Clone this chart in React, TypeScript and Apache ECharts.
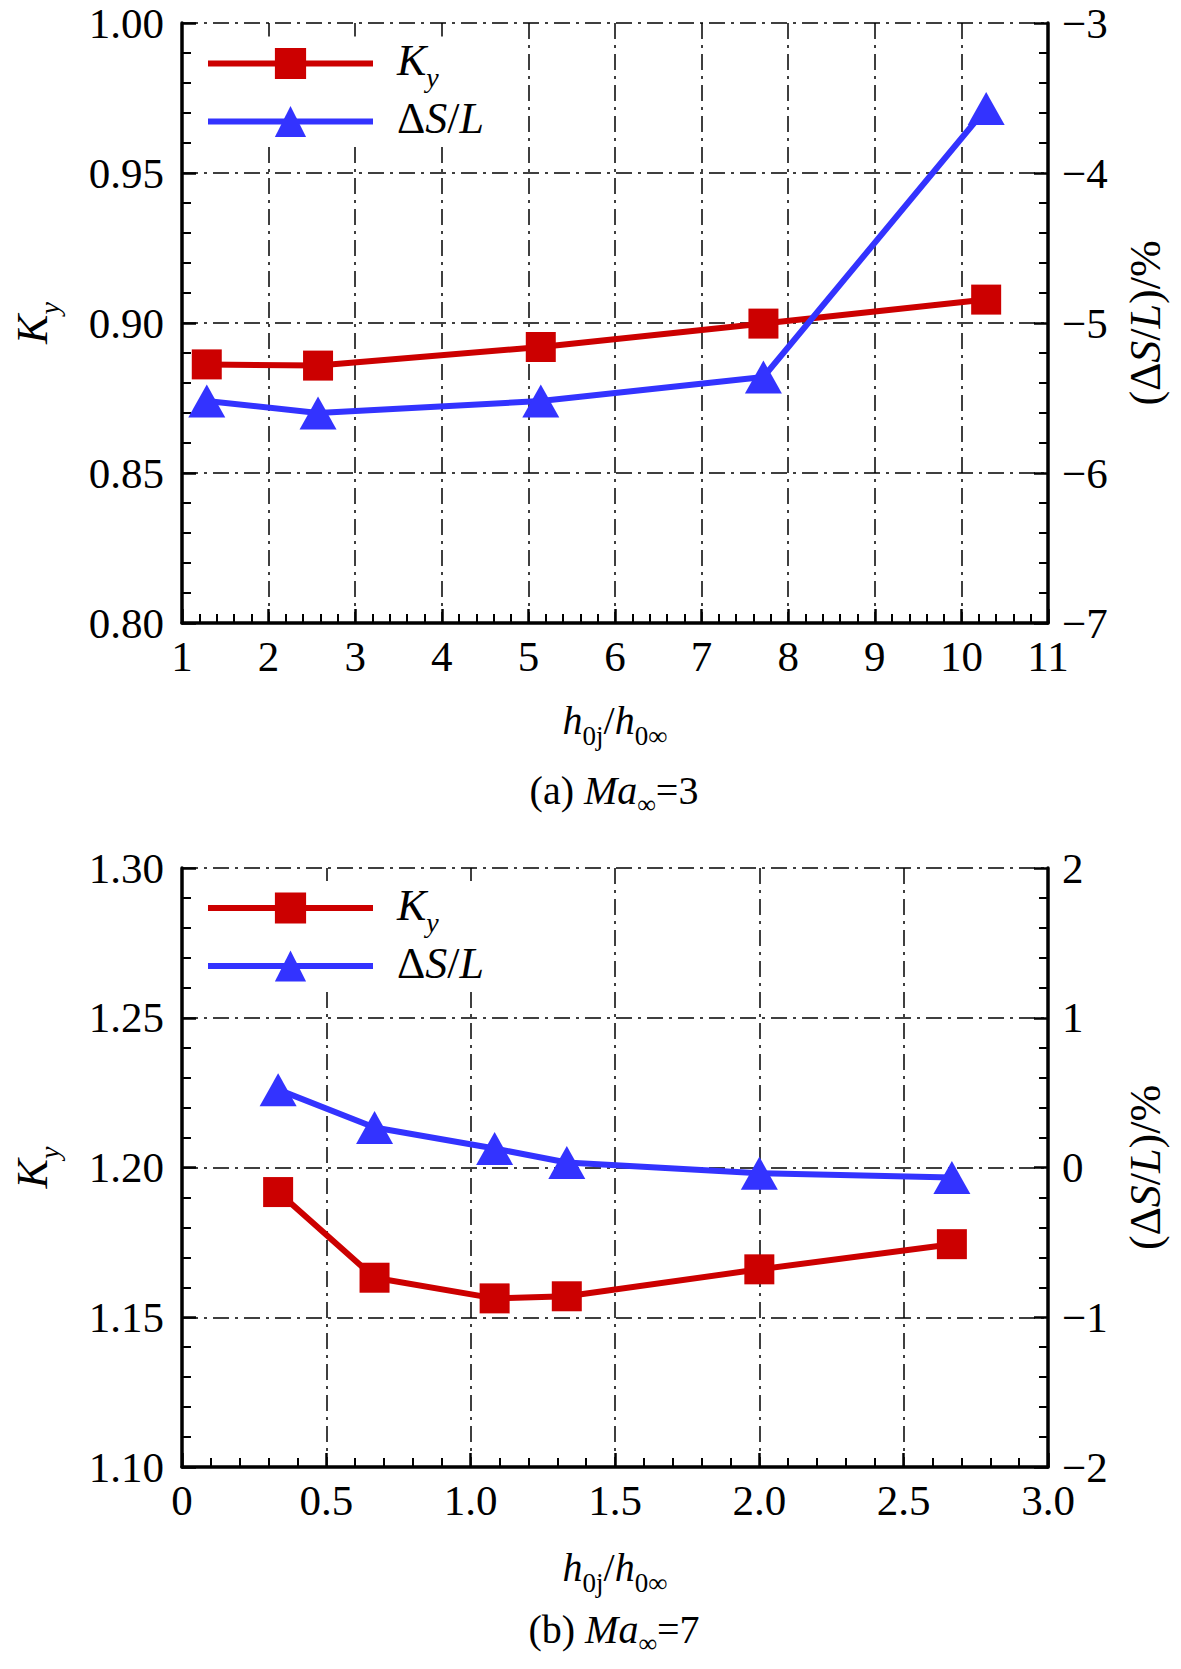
import React, { useEffect, useRef } from 'react';
import * as echarts from 'echarts';

const SERIF = "'Liberation Serif', 'Times New Roman', Times, serif";
const RED = '#CC0000';
const BLUE = '#3333FF';

// ---------- Panel (a) Ma∞ = 3 ----------
const xA = [1.286, 2.571, 5.143, 7.714, 10.286];
const kyA = [0.8862, 0.8858, 0.892, 0.8998, 0.9078];
const dsA = [-5.52, -5.6, -5.52, -5.36, -3.57];
const xTickLabelsA = ['1', '2', '3', '4', '5', '6', '7', '8', '9', '10', '11'];
const yLeftLabelsA = ['0.80', '0.85', '0.90', '0.95', '1.00'];
const yRightLabelsA = ['\u22127', '\u22126', '\u22125', '\u22124', '\u22123'];

// ---------- Panel (b) Ma∞ = 7 ----------
const xB = [0.333, 0.667, 1.083, 1.333, 2.0, 2.667];
const kyB = [1.1918, 1.1632, 1.1563, 1.157, 1.166, 1.1744];
const dsB = [0.52, 0.267, 0.127, 0.033, -0.038, -0.067];
const xTickLabelsB = ['0', '0.5', '1.0', '1.5', '2.0', '2.5', '3.0'];
const yLeftLabelsB = ['1.10', '1.15', '1.20', '1.25', '1.30'];
const yRightLabelsB = ['\u22122', '\u22121', '0', '1', '2'];

const SERIES_NAMES = ['Ky', 'ΔS/L'];

function rich(main: number, sub: number, d: number) {
  const lh = main + 6;
  const pad = Math.round(lh / 2 + 0.34 * main + d - sub / 2 - 0.34 * sub);
  const base = { fontFamily: SERIF, fontSize: main, lineHeight: lh, verticalAlign: 'top', color: '#000' };
  const sbase = { fontFamily: SERIF, fontSize: sub, lineHeight: sub, padding: [pad, 0, 0, 0], verticalAlign: 'top', color: '#000' };
  return {
    n: { ...base },
    i: { ...base, fontStyle: 'italic' },
    s: { ...sbase },
    si: { ...sbase, fontStyle: 'italic' },
  };
}

const lookup = (labels: string[], min: number, step: number) => (v: number) => {
  const idx = Math.round((v - min) / step);
  return labels[idx] ?? '';
};

const DASHDOT = [16, 6, 3, 6];
const TICK_FONT = 43;

function xAxisCfg(gridIndex: number, min: number, max: number, interval: number, labels: string[], nameGap: number) {
  return {
    type: 'value',
    gridIndex,
    min,
    max,
    interval,
    position: 'bottom',
    axisLine: { show: true, onZero: false, lineStyle: { color: '#000', width: 3.5 } },
    axisTick: { show: true, inside: true, length: 14, lineStyle: { color: '#000', width: 2.5 } },
    minorTick: { show: true, splitNumber: 5, length: 9, lineStyle: { color: '#000', width: 2 } },
    axisLabel: {
      margin: 12,
      fontSize: TICK_FONT,
      fontFamily: SERIF,
      color: '#000',
      formatter: lookup(labels, min, interval),
    },
    splitLine: { show: true, lineStyle: { color: '#000', width: 1.5, type: DASHDOT } },
    name: '{i|h}{s|0j}{n|/}{i|h}{s|0\u221E}',
    nameLocation: 'middle',
    nameGap,
    nameTextStyle: { rich: rich(40, 27, 8) },
  };
}

function yLeftCfg(gridIndex: number, min: number, max: number, interval: number, labels: string[]) {
  return {
    type: 'value',
    gridIndex,
    position: 'left',
    min,
    max,
    interval,
    axisLine: { show: true, onZero: false, lineStyle: { color: '#000', width: 3.5 } },
    axisTick: { show: true, inside: true, length: 14, lineStyle: { color: '#000', width: 2.5 } },
    minorTick: { show: true, splitNumber: 5, length: 9, lineStyle: { color: '#000', width: 2 } },
    axisLabel: {
      margin: 18,
      fontSize: TICK_FONT,
      fontFamily: SERIF,
      color: '#000',
      formatter: lookup(labels, min, interval),
    },
    splitLine: { show: true, lineStyle: { color: '#000', width: 1.5, type: DASHDOT } },
    name: '{i|K}{si|y}',
    nameLocation: 'middle',
    nameRotate: 90,
    nameGap: 122,
    nameTextStyle: { rich: rich(44, 28, 9) },
  };
}

function yRightCfg(gridIndex: number, min: number, max: number, interval: number, labels: string[]) {
  return {
    type: 'value',
    gridIndex,
    position: 'right',
    min,
    max,
    interval,
    axisLine: { show: true, onZero: false, lineStyle: { color: '#000', width: 3.5 } },
    axisTick: { show: true, inside: true, length: 14, lineStyle: { color: '#000', width: 2.5 } },
    minorTick: { show: true, splitNumber: 5, length: 9, lineStyle: { color: '#000', width: 2 } },
    axisLabel: {
      margin: 14,
      fontSize: TICK_FONT,
      fontFamily: SERIF,
      color: '#000',
      formatter: lookup(labels, min, interval),
    },
    splitLine: { show: false },
    name: '{n|(\u0394}{i|S}{n|/}{i|L}{n|)/%}',
    nameLocation: 'middle',
    nameRotate: 90,
    nameGap: 75,
    nameTextStyle: { rich: rich(44, 28, 9) },
  };
}

function seriesPair(xIdx: number, yLeft: number, yRight: number, xs: number[], ky: number[], ds: number[]) {
  return [
    {
      type: 'line',
      name: SERIES_NAMES[0],
      xAxisIndex: xIdx,
      yAxisIndex: yLeft,
      data: xs.map((x, i) => [x, ky[i]]),
      symbol: 'rect',
      symbolSize: 30,
      itemStyle: { color: RED },
      lineStyle: { color: RED, width: 6 },
      z: 3,
    },
    {
      type: 'line',
      name: SERIES_NAMES[1],
      xAxisIndex: xIdx,
      yAxisIndex: yRight,
      data: xs.map((x, i) => [x, ds[i]]),
      symbol: 'triangle',
      symbolSize: [37, 33],
      itemStyle: { color: BLUE },
      lineStyle: { color: BLUE, width: 6 },
      z: 4,
    },
  ];
}

const legendRich = rich(44, 28, 9);
function legendCfg(top: number) {
  return {
    show: true,
    orient: 'vertical',
    left: 195,
    top,
    itemWidth: 165,
    itemHeight: 39,
    itemGap: 5,
    padding: [2, 14, 4, 10],
    backgroundColor: '#fff',
    selectedMode: false,
    data: SERIES_NAMES,
    lineStyle: { width: 6 },
    formatter: (name: string) => (name === 'Ky' ? '{i|K}{si|y}' : '{n|\u0394}{i|S}{n|/}{i|L}'),
    textStyle: { rich: legendRich, padding: [0, 0, 0, 19] },
  };
}

function caption(label: string, num: string, x: number, y: number) {
  return {
    type: 'text',
    x,
    y,
    z: 10,
    style: {
      text: `{n|(${label}) }{i|Ma}{s|\u221E}{n|=${num}}`,
      rich: rich(40, 26, 6),
      align: 'center',
      verticalAlign: 'top',
      textAlign: 'center',
      textVerticalAlign: 'top',
      fill: '#000',
    },
  };
}

export default function App() {
  const ref = useRef<HTMLDivElement>(null);
  useEffect(() => {
    if (!ref.current) return;
    const chart = echarts.init(ref.current, undefined, { renderer: 'svg' });
    const option = {
      animation: false,
      backgroundColor: '#fff',
      textStyle: { fontFamily: SERIF },
      grid: [
        { left: 182, top: 23, width: 866, height: 600, containLabel: false },
        { left: 182, top: 868, width: 866, height: 599, containLabel: false },
      ],
      xAxis: [
        xAxisCfg(0, 1, 11, 1, xTickLabelsA, 77),
        xAxisCfg(1, 0, 3, 0.5, xTickLabelsB, 80),
      ],
      yAxis: [
        yLeftCfg(0, 0.8, 1.0, 0.05, yLeftLabelsA),
        yRightCfg(0, -7, -3, 1, yRightLabelsA),
        yLeftCfg(1, 1.1, 1.3, 0.05, yLeftLabelsB),
        yRightCfg(1, -2, 2, 1, yRightLabelsB),
      ],
      legend: [legendCfg(36.5), legendCfg(881)],
      series: [
        ...seriesPair(0, 0, 1, xA, kyA, dsA),
        ...seriesPair(1, 2, 3, xB, kyB, dsB),
      ],
      graphic: [caption('a', '3', 614, 770), caption('b', '7', 614, 1609)],
    };
    chart.setOption(option as any);
    return () => chart.dispose();
  }, []);
  return (
    <div
      ref={ref}
      style={{ position: 'absolute', left: 0, top: 0, width: 1181, height: 1669, background: '#fff' }}
    />
  );
}
